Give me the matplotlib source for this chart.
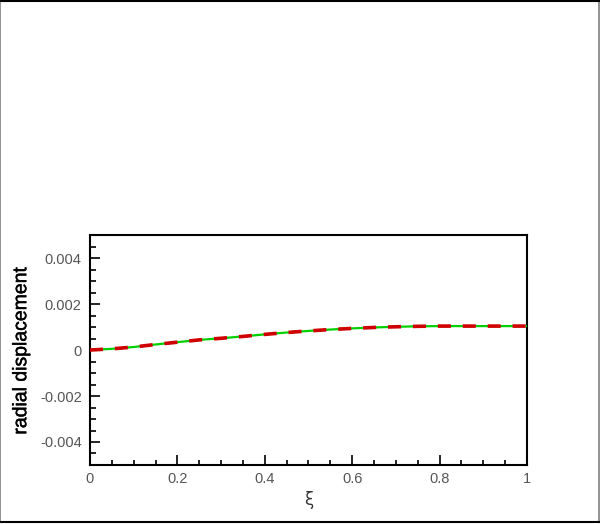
import matplotlib
matplotlib.use("Agg")
import matplotlib.pyplot as plt
import matplotlib.patheffects as pe
from matplotlib.ticker import MultipleLocator, FuncFormatter
from matplotlib.patches import Rectangle

xi = [0.0, 0.05, 0.1, 0.15, 0.2, 0.25, 0.3, 0.35, 0.4, 0.45, 0.5,
      0.55, 0.6, 0.65, 0.7, 0.75, 0.8, 0.85, 0.9, 0.95, 1.0]
exact = [0.0, 0.00005, 0.00013, 0.00024, 0.00034, 0.00044, 0.00051, 0.00059,
         0.00068, 0.00076, 0.00083, 0.00089, 0.00094, 0.00098, 0.00101,
         0.00103, 0.00104, 0.00104, 0.00104, 0.00104, 0.00104]
approx = list(exact)

x_ticks = [0, 0.2, 0.4, 0.6, 0.8, 1]
y_ticks = [-0.004, -0.002, 0, 0.002, 0.004]

plt.rcParams['font.family'] = ['Liberation Sans', 'DejaVu Sans']

fig = plt.figure(figsize=(6.0, 5.24), dpi=100)
ax = fig.add_axes([0.15, 0.1126, 0.7283, 0.4389])

ax.plot(xi, exact, color='#00d000', lw=1.6, solid_capstyle='butt', zorder=3)
ax.plot(xi, approx, color='#d00000', lw=2.6, dashes=(3.6, 3.3), zorder=4)

ax.set_xlim(0, 1)
ax.set_ylim(-0.005, 0.005)
ax.set_xticks(x_ticks)
ax.set_yticks(y_ticks)
ax.xaxis.set_minor_locator(MultipleLocator(0.05))
ax.yaxis.set_minor_locator(MultipleLocator(0.0005))

def fmt(v, pos):
    s = ('%.3f' % v).rstrip('0').rstrip('.')
    if s in ('-0', ''):
        s = '0'
    return s

ax.xaxis.set_major_formatter(FuncFormatter(fmt))
ax.yaxis.set_major_formatter(FuncFormatter(fmt))

ax.tick_params(which='both', direction='in', top=False, right=False,
               width=1.2, colors='black', labelcolor='#555555', labelsize=10.5)
ax.tick_params(axis='y', which='major', length=7, pad=6)
ax.tick_params(axis='y', which='minor', length=4.2)
ax.tick_params(axis='x', which='major', length=7, pad=5)
ax.tick_params(axis='x', which='minor', length=3.5)

for sp in ax.spines.values():
    sp.set_linewidth(1.5)
    sp.set_color('black')

yl = ax.set_ylabel('radial displacement', fontsize=14, labelpad=7)
yl.set_path_effects([pe.withStroke(linewidth=0.3, foreground='black')])
ax.set_xlabel('ξ', fontsize=12, color='#333333', family=['DejaVu Sans'], labelpad=4)

# figure frame
fig.patches.append(Rectangle((0.0, 0.003), 0.998, 0.995, transform=fig.transFigure,
                             fill=False, edgecolor='#808080', lw=1.2))
fig.lines.append(plt.Line2D([0, 1], [0.999, 0.999], transform=fig.transFigure,
                            color='black', lw=1.5))
fig.lines.append(plt.Line2D([0, 1], [0.003, 0.003], transform=fig.transFigure,
                            color='black', lw=1.5))

fig.savefig('out.png', dpi=100)
